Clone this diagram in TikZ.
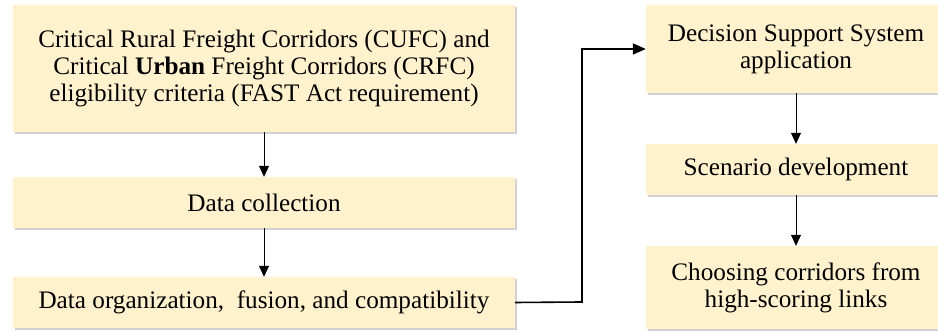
\documentclass[tikz,border=0pt]{standalone}
\usepackage{fontspec}
\setmainfont{Liberation Serif}
\usetikzlibrary{arrows.meta,shadows}
\definecolor{boxfill}{HTML}{FFF2CC}
\tikzset{
  x=1pt,y=1pt,
  fbox/.style={fill=boxfill, draw=none, inner sep=0pt, align=center,
    font=\fontsize{25.2}{27}\selectfont,
    drop shadow={shadow xshift=2pt, shadow yshift=-2.5pt, opacity=0.45, fill=gray!80}},
  thinarrow/.style={draw=black, line width=0.8pt, -{Triangle[width=10pt,length=11pt]}},
  thickarrow/.style={draw=black, line width=1.6pt, -{Triangle[width=11pt,length=13pt]}}
}
\begin{document}
\begin{tikzpicture}
\useasboundingbox (0,0) rectangle (938,331);
\node[fbox, minimum width=502pt, minimum height=127pt] (crit) at (264,262.5)
  {Critical Rural Freight Corridors (CUFC) and\\
   Critical \textbf{Urban} Freight Corridors (CRFC)\\
   eligibility criteria (FAST Act requirement)};
\node[fbox, minimum width=502pt, minimum height=51pt] (coll) at (264,128.5) {Data collection};
\node[fbox, minimum width=502pt, minimum height=51pt] (org) at (264,28.5) {Data organization, \ fusion, and compatibility};
\node[fbox, minimum width=300pt, minimum height=88pt] (dss) at (796,282) {Decision Support System\\application};
\node[fbox, minimum width=300pt, minimum height=51pt] (scen) at (796,161.5) {Scenario development};
\node[fbox, minimum width=300pt, minimum height=83pt] (choose) at (796,43.5) {Choosing corridors from\\high-scoring links};
\draw[thinarrow] (crit.south) -- (coll.north);
\draw[thinarrow] (coll.south) -- (org.north);
\draw[thinarrow] (dss.south) -- (scen.north);
\draw[thinarrow] (scen.south) -- (choose.north);
\coordinate (kb) at (582,29);
\coordinate (kt) at (582,282);
\draw[thickarrow] (org.east) -- (kb) -- (kt) -- (dss.west);
\end{tikzpicture}
\end{document}
